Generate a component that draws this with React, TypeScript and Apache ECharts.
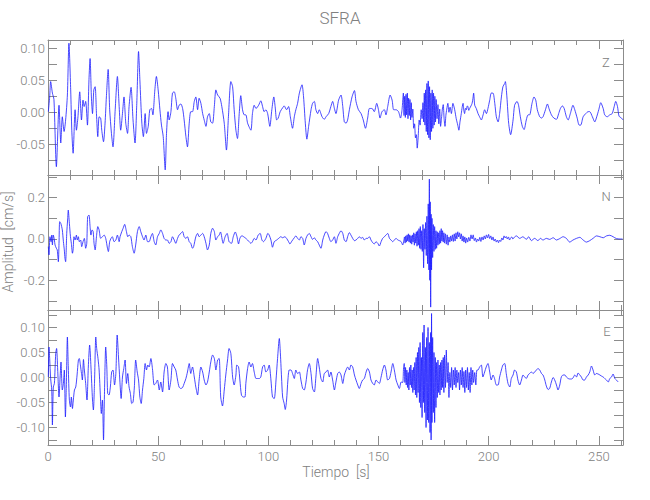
import React, { useEffect, useRef } from 'react';
import * as echarts from 'echarts';

// ---- data (time [s], amplitude [cm/s]) ----
const zTrace: number[][] = [
  [0.15,0.001],[0.76,0.024],[1.2,0.048],[2.0,0.030],[2.7,0.020],[3.8,-0.085],[5.0,0.011],[5.8,-0.048],[6.5,-0.007],[7.3,-0.030],[8.0,-0.012],[8.8,0.027],[9.5,0.108],[10.3,0.035],[10.8,-0.028],[11.4,-0.064],[12.3,0.004],[12.9,-0.028],[13.6,-0.007],[14.4,0.032],[15.2,-0.012],[15.9,0.019],[16.4,0.009],[17.1,0.017],[17.9,-0.020],[18.6,0.051],[19.1,0.084],[19.7,0.024],[20.2,-0.002],[20.8,0.035],[21.4,0.040],[22.0,-0.002],[22.6,-0.038],[23.2,-0.007],[23.9,-0.009],[24.4,-0.028],[25.2,-0.046],[25.9,-0.017],[26.5,0.024],[27.3,0.067],[28.0,0.004],[28.8,-0.033],[29.5,-0.054],[30.5,0.004],[31.5,0.056],[32.3,0.009],[33.0,-0.028],[33.8,-0.002],[34.5,0.024],[35.3,-0.017],[36.1,-0.033],[36.8,0.009],[37.7,0.039],[38.6,-0.012],[39.5,-0.048],[40.3,0.014],[41.1,0.095],[41.7,0.051],[42.6,-0.017],[43.3,-0.038],[44.1,-0.002],[44.7,-0.033],[45.5,-0.022],[46.2,0.004],[47.0,0.006],[47.6,-0.004],[48.5,0.035],[49.2,0.056],[50.0,0.035],[50.8,0.004],[51.5,-0.020],[52.3,-0.038],[53.2,-0.090],[53.8,-0.033],[54.5,0.001],[55.0,-0.012],[55.8,0.001],[56.5,0.030],[57.3,0.032],[58.0,0.022],[58.8,0.004],[59.5,0.011],[60.3,0.013],[61.1,0.006],[61.8,-0.012],[62.6,-0.038],[63.3,-0.054],[64.1,-0.017],[64.8,0.001],[65.6,0.001],[66.4,0.017],[67.1,0.024],[67.9,0.004],[68.6,0.022],[69.4,0.014],[70.2,-0.002],[70.9,-0.012],[71.7,-0.022],[72.4,-0.007],[73.2,-0.002],[73.9,-0.015],[74.7,-0.017],[75.5,0.009],[76.2,0.035],[77.0,0.027],
  [78.1,0.022],[78.9,0.009],[80.0,-0.017],[81.0,-0.059],[81.9,-0.007],[83.0,0.048],[83.8,0.040],[84.5,0.004],[85.3,-0.028],[86.0,-0.041],[86.8,-0.002],[87.5,0.026],[88.3,0.004],[89.1,-0.004],[89.8,-0.004],[90.6,-0.017],[92.1,-0.028],[92.8,-0.002],[93.6,0.011],[94.4,0.006],[95.6,0.011],[96.6,0.018],[97.4,0.009],[98.1,0.001],[98.9,0.004],[99.7,-0.002],[100.7,-0.022],[101.6,0.004],[102.5,0.024],[103.1,0.009],[103.8,-0.012],[104.5,-0.009],[105.4,0.001],[106.5,0.007],[107.2,0.010],[108.3,0.004],[109.2,0.009],[110.0,-0.007],[111.0,-0.025],[111.8,-0.007],[112.5,0.004],[113.3,0.014],[114.1,0.030],[115.3,0.043],[116.0,0.024],[116.8,-0.017],[117.5,-0.042],[118.3,-0.022],[119.4,0.004],[120.1,0.014],[120.9,0.017],[121.6,0.004],[122.4,-0.002],[123.1,0.004],[124.4,-0.007],[125.4,-0.011],[126.2,-0.007],[127.4,-0.002],[128.4,0.009],[129.2,0.017],[130.0,0.006],[130.7,-0.002],[131.9,0.019],[133.0,0.027],[133.8,0.009],[134.5,-0.015],[135.3,-0.017],[136.0,-0.012],[136.8,0.004],[138.0,0.024],[139.1,0.034],[139.8,0.017],[140.9,0.004],[142.1,-0.002],[143.1,-0.012],[144.1,-0.025],[145.1,-0.009],[145.9,0.006],[147.1,0.006],[148.1,0.001],[149.2,0.014],[150.0,0.004],[150.7,-0.009],[151.6,0.001],[152.7,0.004],[153.4,-0.004],[154.2,0.009],[155.3,0.027],[156.2,0.019],[156.9,0.004],[158.0,0.004],[159.1,0.001],[160.0,-0.009],[160.7,0.004],
  [161.3,0.030],[161.6,-0.005],[161.9,0.025],[162.2,-0.008],[162.5,0.028],[162.8,-0.004],[163.1,0.030],[163.4,-0.010],[163.7,0.022],[164.0,-0.005],[164.3,0.020],[164.6,-0.012],[164.9,0.015],[165.2,-0.008],[165.6,0.005],[166.0,-0.025],[166.4,-0.018],[166.8,-0.040],[167.2,-0.035],[167.6,-0.056],[168.0,-0.040],[168.5,-0.012],[168.9,-0.020],[169.4,0.004],[169.8,-0.010],[170.2,0.015],[170.5,-0.015],[170.8,0.030],[171.1,-0.020],[171.4,0.035],[171.7,-0.030],[172.0,0.045],[172.3,-0.035],[172.6,0.049],[172.9,-0.040],[173.2,0.040],[173.5,-0.043],[173.8,0.030],[174.1,-0.030],[174.4,0.035],[174.7,-0.025],[175.0,0.030],[175.3,-0.020],[175.6,0.025],[175.9,-0.015],
  [176.2,0.020],[176.6,-0.010],[177.0,0.012],[177.4,-0.018],[177.8,0.005],[178.2,-0.022],[178.6,-0.010],[179.0,0.005],[179.4,0.012],[179.8,-0.010],[180.2,-0.022],[180.6,-0.005],[181.0,0.005],[181.5,0.014],[182.0,0.000],[182.5,0.008],[183.1,-0.002],[183.8,0.014],[184.6,0.004],[185.3,-0.010],[186.0,-0.020],[186.5,-0.028],[187.0,-0.015],[187.6,-0.002],[188.0,0.008],[188.4,0.014],[188.8,0.002],[189.1,-0.002],[189.5,0.006],[189.9,0.004],[190.3,0.010],[190.6,0.009],[191.0,0.003],[191.4,0.006],[192.0,0.010],[192.5,0.014],[192.9,0.022],[193.2,0.030],[193.7,0.011],[194.4,0.006],[195.2,-0.002],[195.9,-0.007],[196.7,-0.012],[197.5,-0.004],[198.2,0.004],[199.0,-0.002],[199.7,0.006],[200.5,0.019],[201.2,0.030],[202.0,0.030],[202.8,0.014],[203.5,-0.007],[204.3,-0.015],[205.0,-0.002],[205.8,0.024],[206.5,0.040],[207.3,0.045],[207.6,0.048],[208.3,0.024],
  [209.1,-0.017],[210.0,-0.035],[211.1,-0.012],[211.8,0.011],[212.9,0.017],[213.6,0.011],[214.4,-0.007],[215.3,-0.022],[216.1,-0.027],[217.1,-0.012],[217.9,-0.004],[218.6,-0.004],[219.7,0.014],[220.6,0.024],[221.4,0.019],[222.1,0.004],[223.2,-0.007],[224.0,-0.009],[224.7,-0.007],[225.8,0.004],[226.7,0.013],[227.4,0.006],[228.5,-0.004],[229.6,-0.009],[230.8,-0.011],[231.8,-0.002],[232.6,0.006],[233.5,0.010],[234.3,0.006],[235.3,-0.007],[236.1,-0.012],[237.1,-0.002],[238.3,0.011],[239.1,0.004],[240.2,-0.009],[241.1,-0.020],[241.8,-0.020],[242.9,-0.007],[244.1,-0.002],[245.2,0.001],[245.9,0.001],[247.1,-0.007],[248.2,-0.015],[248.9,-0.009],[250.0,0.004],[250.9,0.015],[252.0,0.006],[252.7,-0.004],[253.8,-0.007],[255.0,-0.004],[256.1,-0.002],[257.0,0.009],[257.7,0.017],[258.5,0.009],[259.2,-0.006],[260.3,-0.009],[261.0,-0.012]
];

const nTrace: number[][] = [
  [0.15,-0.037],[0.45,-0.077],[0.9,0.011],[1.4,-0.013],[1.7,0.019],[2.0,-0.029],[2.4,0.019],[2.9,-0.005],[3.2,-0.029],[3.8,-0.045],[4.2,-0.053],[4.7,-0.110],[5.0,-0.021],[5.3,0.084],[5.8,0.076],[6.2,0.060],[6.5,0.044],[7.0,-0.013],[7.4,-0.053],[7.7,-0.094],[8.0,-0.110],[8.5,0.027],[8.9,0.092],[9.2,0.140],[9.7,0.076],[10.2,0.011],[10.6,-0.021],[11.1,-0.069],[11.4,-0.053],[11.8,0.011],[12.3,-0.005],[12.9,0.019],[13.3,-0.005],[13.8,0.011],[14.2,-0.013],[14.8,-0.005],[15.3,-0.037],[15.9,-0.013],[16.5,0.003],[17.1,-0.045],[17.6,-0.021],[18.0,0.108],[18.6,0.116],[19.1,0.060],[19.5,0.019],[20.0,0.044],[20.5,0.036],[20.9,-0.021],[21.4,-0.053],[22.0,0.011],[22.6,0.060],[23.2,0.044],[23.9,0.003],[24.7,0.011],[25.5,0.019],[26.2,0.003],[27.0,-0.045],[27.4,-0.061],[28.0,-0.013],[28.6,0.003],[29.2,0.011],[30.0,-0.013],[30.8,-0.005],[31.5,0.019],[32.3,-0.013],[32.7,0.011],[33.5,0.036],[34.1,0.052],[34.8,0.071],[35.6,0.036],[36.2,0.011],[36.8,0.019],[37.6,0.011],[38.3,-0.037],[39.1,-0.069],[39.8,-0.029],[40.6,0.036],[41.4,0.060],[42.1,0.036],[42.9,0.011],[43.6,-0.005],[44.4,0.019],[45.2,-0.013],[45.9,-0.013],[46.7,0.011],[47.4,0.027],[48.2,-0.013],[48.9,-0.029],[49.7,0.011],[50.5,0.027],[51.2,0.044],[52.0,0.027],[52.7,0.003],[53.5,-0.005],[54.2,-0.005],[55.0,-0.021],[55.8,-0.013],[56.5,0.011],[57.3,-0.005],[58.0,-0.021],[58.8,0.003],[59.5,0.019],[60.3,0.027],[61.1,0.036],[61.8,0.011],[62.6,0.003],[63.3,0.011],[64.1,-0.013],[64.8,-0.021],[65.6,-0.045],[66.1,-0.037],[67.1,0.011],[67.9,0.027],[68.6,0.011],[69.4,0.019],[70.2,0.027],[70.9,0.011],[71.7,-0.021],[72.4,-0.053],[73.2,-0.029],[73.9,0.027],[74.7,0.052],[75.5,0.036],[76.2,-0.005],[77.0,0.011],[77.7,0.019],
  [78.3,0.034],[79.5,-0.021],[80.4,0.011],[81.3,0.027],[82.2,-0.013],[83.3,-0.021],[84.1,0.011],[85.0,0.034],[85.7,0.015],[86.5,-0.024],[87.1,0.003],[88.0,0.016],[88.8,0.011],[89.8,0.003],[90.6,-0.005],[91.3,-0.013],[92.1,-0.021],[92.8,-0.013],[93.6,0.003],[94.4,-0.005],[95.4,0.019],[96.3,0.027],[97.1,-0.005],[97.8,-0.013],[98.9,0.003],[99.8,0.027],[100.4,0.019],[101.2,-0.005],[101.9,-0.040],[102.7,-0.013],[103.8,-0.005],[104.7,0.003],[105.7,0.011],[106.5,0.006],[107.5,0.011],[108.3,0.003],[109.2,-0.013],[109.8,-0.024],[110.7,-0.010],[111.8,0.006],[112.5,0.015],[113.3,0.003],[114.1,-0.005],[114.8,0.011],[115.6,0.003],[116.3,-0.029],[117.1,0.003],[117.8,0.019],[118.6,0.027],[119.4,0.011],[120.1,-0.002],[120.9,0.006],[121.6,-0.005],[122.4,-0.013],[123.1,-0.029],[123.9,-0.045],[124.7,-0.005],[125.4,0.019],[126.2,0.036],[126.9,0.027],[127.7,0.003],[128.4,-0.013],[129.2,-0.005],[130.0,0.011],[130.7,-0.021],[131.5,0.011],[132.2,0.027],[133.0,0.040],[133.8,0.027],[134.5,-0.005],[135.3,-0.013],[136.0,0.011],[136.8,0.031],[137.5,0.019],[138.3,0.003],[139.1,-0.008],[139.8,-0.005],[140.6,0.003],[141.3,0.011],[142.1,0.003],[142.8,0.008],[143.6,-0.005],[144.4,0.003],[145.1,0.003],[145.9,0.011],[146.6,-0.005],[147.4,-0.018],[148.1,-0.024],[148.9,-0.013],[149.7,-0.021],[150.4,-0.034],[151.2,-0.013],[151.9,0.003],[152.7,0.011],[153.4,0.019],[154.2,0.027],[155.0,0.003],[155.7,-0.005],[156.5,-0.013],[157.2,-0.005],[158.0,0.003],[158.8,-0.005],[159.5,-0.008],[160.3,-0.013],[161.0,-0.029],
  [161.5,-0.010],[161.8,0.010],[162.1,-0.020],[162.4,0.015],[162.7,-0.015],[163.0,0.020],[163.3,-0.010],[163.6,0.025],[163.9,-0.015],[164.2,0.020],[164.5,-0.020],[164.8,0.015],[165.1,-0.025],[165.4,0.020],[165.7,-0.015],[166.0,0.030],[166.3,-0.030],[166.6,0.025],[166.9,-0.020],[167.2,0.035],[167.5,-0.035],[167.8,0.040],[168.1,-0.030],[168.4,0.050],[168.7,-0.045],[169.0,0.060],[169.3,-0.050],[169.6,0.040],[169.9,-0.060],[170.2,0.070],[170.5,-0.140],[170.8,0.050],[171.1,-0.050],[171.4,0.080],[171.7,-0.080],[172.0,0.110],[172.3,-0.120],[172.6,0.170],[172.9,-0.150],[173.1,0.290],[173.3,-0.200],[173.5,0.180],[173.7,-0.330],[173.9,0.120],[174.1,-0.150],[174.3,0.100],[174.6,-0.090],[174.9,0.070],[175.2,-0.060],[175.5,0.060],[175.8,-0.050],[176.1,0.040],[176.4,-0.045],[176.7,0.035],[177.0,-0.030],[177.3,0.030],[177.6,-0.025],[177.9,0.040],[178.2,-0.020],[178.5,0.050],[178.8,-0.010],[179.1,0.040],[179.4,-0.015],[179.7,0.030],[180.0,-0.020],[180.4,0.025],[180.8,-0.025],[181.2,0.020],[181.6,-0.030],[182.0,0.010],[182.4,-0.015],[182.8,0.015],[183.2,-0.010],[183.6,0.020],
  [184.0,-0.012],[184.4,0.025],[184.8,-0.010],[185.2,0.030],[185.6,0.000],[186.0,0.035],[186.4,0.010],[186.8,0.030],[187.2,0.000],[187.6,0.025],[188.0,-0.010],[188.4,0.015],[188.8,-0.015],[189.2,0.010],[189.6,-0.020],[190.0,0.005],[190.5,-0.015],[191.0,0.008],[191.5,-0.010],[192.0,0.020],[192.5,0.000],[193.0,0.020],[193.5,-0.008],[194.0,0.005],[194.5,-0.015],[195.0,0.000],[195.5,-0.010],[196.0,0.008],[196.5,-0.012],[197.0,0.010],[197.5,-0.005],[198.0,0.015],[198.5,0.000],[199.0,0.020],[199.5,0.005],[200.0,0.022],[200.5,0.002],[201.0,0.015],[201.5,-0.005],[202.0,0.010],[202.5,-0.010],[203.0,0.000],[203.5,-0.015],[204.0,-0.005],[204.5,-0.018],[205.0,-0.005],[205.5,-0.012],[206.0,0.005],[206.5,-0.005],[207.0,0.015],[207.5,0.005],[208.0,0.012],[208.5,0.000],[209.0,0.010],[209.5,-0.005],[210.0,0.005],[210.5,0.010],[211.0,0.000],[211.8,0.010],
  [212.6,0.015],[214.1,0.003],[215.6,0.011],[217.1,-0.002],[218.2,0.011],[219.4,-0.008],[220.9,0.003],[222.4,-0.008],[223.5,0.003],[224.7,-0.005],[226.2,0.003],[227.7,-0.002],[229.3,0.006],[230.8,-0.005],[232.3,0.002],[233.8,0.011],[235.3,0.003],[236.8,-0.015],[238.3,-0.005],[239.9,0.003],[241.4,0.008],[242.9,-0.005],[244.4,-0.015],[245.9,-0.008],[247.4,0.003],[249.0,0.015],[250.5,0.011],[252.0,0.006],[253.5,0.015],[255.0,0.018],[256.5,0.011],[258.0,0.002],[259.6,0.000],[260.8,0.000]
];

const eTrace: number[][] = [
  [0.15,0.001],[0.45,0.061],[0.76,0.038],[1.2,-0.002],[1.7,-0.025],[2.0,-0.095],[2.4,-0.019],[2.9,-0.012],[3.5,0.048],[3.9,0.058],[4.4,0.015],[5.0,-0.039],[5.5,0.001],[5.9,0.031],[6.5,-0.025],[7.0,-0.012],[7.4,0.015],[7.9,-0.079],[8.3,-0.019],[8.8,0.081],[9.2,0.021],[9.7,-0.045],[10.2,-0.059],[10.6,-0.039],[11.1,-0.062],[11.5,-0.045],[12.0,-0.025],[12.6,-0.019],[13.2,0.005],[13.8,0.035],[14.2,0.038],[14.7,0.025],[15.2,0.008],[15.6,-0.005],[16.1,0.036],[16.5,0.015],[17.1,-0.012],[17.7,-0.045],[18.3,0.021],[18.9,0.065],[19.5,0.021],[20.2,-0.045],[20.6,-0.065],[21.1,-0.012],[21.7,0.081],[22.1,0.058],[22.7,0.038],[23.2,0.015],[23.8,-0.039],[24.2,-0.072],[24.7,-0.045],[25.2,-0.125],[25.6,-0.039],[26.2,0.061],[26.7,0.021],[27.1,-0.032],[27.7,-0.035],[28.3,-0.019],[28.9,0.011],[29.5,0.015],[30.2,-0.015],[30.8,0.008],[31.4,0.085],[32.0,0.041],[32.6,-0.005],[33.2,-0.042],[33.8,0.001],[34.4,0.018],[35.0,0.035],[35.6,-0.012],[36.2,0.008],[36.8,-0.019],[37.4,-0.032],[38.0,-0.052],[38.6,-0.049],[39.2,-0.019],[39.8,0.035],[40.5,0.011],[41.1,-0.005],[41.7,-0.039],[42.3,-0.052],[42.9,-0.025],[43.5,-0.002],[44.1,0.028],[44.7,0.015],[45.3,0.025],[45.9,0.021],[46.7,0.038],[47.4,0.018],[48.2,-0.015],[48.9,-0.012],[49.7,-0.005],[50.5,-0.025],[51.2,-0.009],[52.0,-0.029],[52.7,0.011],[53.5,0.028],[54.2,0.021],[55.0,-0.025],[55.8,-0.005],[56.5,0.028],[57.3,0.021],[58.0,0.015],[58.8,-0.005],[59.5,-0.019],[60.3,-0.022],[61.1,-0.020],[61.8,-0.012],[62.6,-0.002],[63.3,0.011],[64.1,0.028],[64.8,0.008],[65.6,0.021],[66.4,0.001],[67.1,-0.019],[67.9,-0.035],[68.6,-0.005],[69.4,0.021],[70.2,0.011],[70.9,-0.005],[71.7,-0.015],[72.4,-0.009],[73.2,0.011],[73.9,0.031],[74.7,0.045],[75.5,0.038],[76.2,0.015],[77.0,0.035],[77.7,0.038],
  [78.4,-0.039],[79.2,-0.057],[80.0,-0.025],[80.7,0.005],[81.5,0.035],[82.2,0.058],[83.0,0.048],[83.8,0.001],[84.5,-0.015],[85.3,0.005],[85.7,0.025],[86.5,0.021],[87.1,-0.005],[87.8,-0.035],[88.6,-0.039],[89.4,-0.039],[89.8,-0.012],[90.6,0.018],[91.3,0.031],[92.1,0.021],[92.8,0.028],[93.6,0.011],[94.4,-0.002],[95.1,-0.002],[95.9,-0.002],[96.6,0.001],[97.4,0.021],[98.1,0.025],[98.9,0.011],[99.7,0.015],[100.4,0.025],[101.2,-0.005],[101.9,-0.039],[102.7,-0.042],[103.5,-0.005],[104.2,0.038],[105.0,0.078],[105.4,0.055],[106.0,0.001],[106.5,-0.039],[107.2,-0.052],[107.7,-0.064],[108.3,-0.045],[108.9,-0.005],[109.5,0.015],[110.3,0.015],[111.0,0.008],[111.8,-0.002],[112.5,0.015],[113.3,0.008],[114.1,0.011],[114.8,-0.005],[115.6,-0.022],[116.3,-0.025],[117.1,-0.009],[117.8,0.015],[118.6,0.028],[119.4,0.008],[120.1,-0.022],[120.9,-0.029],[121.6,0.001],[122.4,0.038],[123.1,0.021],[123.9,-0.002],[124.7,-0.009],[125.4,0.008],[126.2,0.011],[126.9,0.015],[127.7,0.001],[128.4,0.011],[129.2,-0.005],[130.0,-0.025],[130.7,-0.009],[131.5,0.008],[132.2,0.011],[133.0,0.005],[133.8,-0.012],[134.5,0.005],[135.3,0.015],[136.0,0.021],[136.8,0.015],[137.5,0.025],[138.3,0.021],[139.1,0.005],[139.8,-0.005],[140.6,-0.015],[141.3,-0.022],[142.1,-0.012],[142.8,-0.005],[143.6,-0.002],[144.4,0.011],[145.1,0.018],[145.9,0.011],[146.6,-0.005],[147.4,-0.012],[148.1,-0.015],[148.9,-0.005],[149.7,-0.009],[150.4,-0.012],[151.2,0.001],[151.9,0.015],[152.7,0.025],[153.4,0.015],[154.2,-0.005],[155.0,-0.002],[155.7,0.011],[156.5,0.028],[157.2,0.015],[158.0,-0.005],[158.8,-0.015],[159.5,-0.022],[160.3,-0.009],
  [161.0,-0.010],[161.4,0.020],[161.7,0.028],[162.0,-0.010],[162.3,0.020],[162.6,-0.015],[162.9,0.015],[163.2,-0.020],[163.5,0.010],[163.8,-0.025],[164.1,0.020],[164.4,-0.015],[164.7,0.025],[165.0,-0.020],[165.3,0.015],[165.6,-0.030],[165.9,0.020],[166.2,-0.025],[166.5,0.030],[166.8,-0.035],[167.1,0.040],[167.4,-0.040],[167.7,0.050],[168.0,-0.030],[168.3,0.060],[168.6,-0.050],[168.9,0.070],[169.2,-0.060],[169.5,0.040],[169.8,-0.080],[170.1,0.090],[170.4,-0.050],[170.7,0.105],[171.0,-0.070],[171.3,0.060],[171.6,-0.100],[171.9,0.080],[172.2,-0.085],[172.5,0.100],[172.8,-0.090],[173.1,0.070],[173.4,-0.110],[173.7,0.090],[173.9,-0.125],[174.1,0.128],[174.3,-0.090],[174.6,0.080],[174.9,-0.070],[175.2,0.050],[175.5,-0.090],[175.8,0.040],[176.1,-0.060],[176.4,0.030],[176.7,-0.040],[177.0,0.035],[177.3,-0.030],[177.6,0.025],[177.9,-0.035],[178.2,0.030],[178.5,-0.025],[178.8,0.035],[179.1,-0.020],[179.4,0.040],[179.7,-0.030],[180.0,0.045],[180.4,-0.020],[180.8,0.055],[181.2,-0.010],[181.6,0.030],[182.0,-0.040],[182.4,0.010],[182.8,-0.020],[183.2,0.020],[183.6,-0.025],[184.0,0.015],[184.4,-0.015],[184.8,0.020],[185.2,-0.020],[185.6,0.015],[186.0,-0.010],[186.4,0.010],[186.8,-0.025],[187.2,0.015],[187.6,-0.015],[188.0,0.020],[188.4,-0.020],[188.8,0.012],[189.2,-0.030],[189.6,0.015],[190.0,-0.020],[190.4,0.020],[190.8,-0.025],[191.2,0.010],[191.6,-0.030],[192.0,0.020],[192.4,-0.015],[192.8,0.015],[193.2,-0.010],[193.7,0.010],[194.2,-0.015],[194.7,0.015],
  [195.2,0.015],[195.9,0.021],[196.7,0.025],[197.4,0.001],[198.2,0.011],[198.9,0.021],[199.7,0.028],[200.5,0.011],[201.2,-0.005],[202.0,0.005],[202.7,-0.002],[203.5,-0.015],[204.3,-0.015],[205.0,0.001],[205.8,0.015],[206.5,0.025],[207.3,0.028],[208.0,0.008],[208.8,-0.012],[209.6,-0.019],[210.3,-0.002],[211.1,0.005],[211.8,0.015],[212.6,0.011],[213.3,-0.005],[214.1,-0.015],[214.9,-0.005],[215.6,0.005],[216.4,0.001],[217.1,-0.002],[217.9,0.005],[218.6,0.008],[219.4,0.011],[220.2,0.008],[220.9,0.011],[221.7,0.015],[222.4,0.018],[223.2,0.015],[224.0,0.008],[224.7,0.005],[225.5,-0.005],[226.2,-0.017],[227.0,-0.024],[227.7,-0.022],[228.5,-0.009],[229.3,0.000],[230.0,-0.005],[230.8,-0.015],[231.5,-0.025],[232.3,-0.015],[233.0,0.001],[233.8,0.005],[234.6,0.005],[235.3,0.001],[236.1,-0.002],[236.8,-0.003],[237.6,-0.003],[238.3,-0.001],[239.1,0.005],[239.9,0.001],[240.6,0.009],[241.4,0.005],[242.1,0.001],[242.9,-0.005],[243.6,-0.005],[244.4,0.001],[245.2,0.005],[245.9,0.011],[246.7,0.023],[247.4,0.015],[248.2,0.005],[248.9,0.008],[249.7,0.007],[250.5,0.005],[251.2,0.003],[252.0,0.001],[252.7,-0.002],[253.5,-0.005],[254.3,-0.009],[255.0,-0.002],[255.8,0.001],[256.5,0.007],[257.3,-0.002],[258.0,-0.005],[258.8,-0.009]
];

const panelTraces = [zTrace, nTrace, eTrace];
const panelNames = ['Z', 'N', 'E'];
const yMins = [-0.098, -0.344, -0.135];
const yMaxs = [0.113, 0.31, 0.135];
const yTickValues = [
  [-0.075, -0.05, -0.025, 0, 0.025, 0.05, 0.075, 0.1],
  [-0.3, -0.2, -0.1, 0, 0.1, 0.2, 0.3],
  [-0.125, -0.1, -0.075, -0.05, -0.025, 0, 0.025, 0.05, 0.075, 0.1, 0.125],
];
const yLabelValues = [
  [-0.05, 0, 0.05, 0.1],
  [-0.2, 0, 0.2],
  [-0.1, -0.05, 0, 0.05, 0.1],
];
const yDecimals = [2, 1, 2];
const xMajorTicks = [0, 50, 100, 150, 200, 250];
const xMinorTicks = [10, 20, 30, 40, 60, 70, 80, 90, 110, 120, 130, 140, 160, 170, 180, 190, 210, 220, 230, 240, 260];
const xMin = 0;
const xMax = 261;

const title = 'SFRA';
const xTitle = 'Tiempo  [s]';
const yTitle = 'Amplitud  [cm/s]';

// ---- layout / style ----
const AXIS = '#8c8c8c';
const TEXT = '#808080';
const FONT = 'Roboto, "DejaVu Sans", sans-serif';
const GRID_LEFT = 48;
const GRID_WIDTH = 575;
const GRID_TOPS = [40, 175, 310];
const GRID_H = 135;
const LABEL_POS = [[606, 62], [606, 196], [607, 331]];

export default function App() {
  const ref = useRef<HTMLDivElement>(null);
  useEffect(() => {
    document.body.style.margin = '0';
    if (!ref.current) return;
    const chart = echarts.init(ref.current, undefined, { renderer: 'svg' });

    const grids = GRID_TOPS.map((t) => ({ left: GRID_LEFT, top: t, width: GRID_WIDTH, height: GRID_H, containLabel: false }));
    const xAxes: any[] = [];
    const yAxes: any[] = [];
    const series: any[] = [];

    panelTraces.forEach((trace, i) => {
      const mk = (position: string, ticks: number[], len: number, showLine: boolean, showLabel: boolean) => ({
        type: 'value', gridIndex: i, position, min: xMin, max: xMax,
        axisLine: { show: showLine, onZero: false, lineStyle: { color: AXIS, width: 1 } },
        axisTick: { show: true, inside: true, length: len, customValues: ticks, lineStyle: { color: AXIS, width: 1 } },
        axisLabel: { show: showLabel, customValues: xMajorTicks, color: TEXT, fontFamily: FONT, fontWeight: 300, fontSize: 13, margin: 5, formatter: (v: number) => String(v) },
        splitLine: { show: false },
      });
      xAxes.push(mk('bottom', xMajorTicks, 9, true, i === 2));
      xAxes.push(mk('bottom', xMinorTicks, 5, false, false));
      xAxes.push(mk('top', xMajorTicks, 9, true, false));
      xAxes.push(mk('top', xMinorTicks, 5, false, false));

      const mky = (position: string, showLabel: boolean) => ({
        type: 'value', gridIndex: i, position, min: yMins[i], max: yMaxs[i],
        axisLine: { show: true, onZero: false, lineStyle: { color: AXIS, width: 1 } },
        axisTick: { show: true, inside: true, length: 9, customValues: yTickValues[i], lineStyle: { color: AXIS, width: 1 } },
        axisLabel: { show: showLabel, customValues: yLabelValues[i], color: TEXT, fontFamily: FONT, fontWeight: 300, fontSize: 13, margin: 3, formatter: (v: number) => v.toFixed(yDecimals[i]) },
        splitLine: { show: false },
      });
      yAxes.push(mky('left', true));
      yAxes.push(mky('right', false));

      series.push({
        type: 'line', xAxisIndex: 4 * i, yAxisIndex: 2 * i, data: trace,
        showSymbol: false, symbol: 'none', smooth: 0.25, silent: true,
        lineStyle: { color: '#1a1aff', width: 0.8 },
      });
    });

    const graphic: any[] = [
      { type: 'text', x: 340, y: 18, style: { text: title, fill: TEXT, font: `300 17px ${FONT}`, align: 'center', verticalAlign: 'middle' } },
      { type: 'text', x: 336, y: 472, style: { text: xTitle, fill: TEXT, font: `300 14px ${FONT}`, align: 'center', verticalAlign: 'middle' } },
      { type: 'text', x: 8, y: 242, rotation: Math.PI / 2, style: { text: yTitle, fill: TEXT, font: `300 14px ${FONT}`, align: 'center', verticalAlign: 'middle' } },
      ...panelNames.map((n, i) => ({ type: 'text', x: LABEL_POS[i][0], y: LABEL_POS[i][1], style: { text: n, fill: TEXT, font: `300 13px ${FONT}`, align: 'center', verticalAlign: 'middle' } })),
    ];

    chart.setOption({
      animation: false,
      backgroundColor: '#ffffff',
      grid: grids,
      xAxis: xAxes,
      yAxis: yAxes,
      series,
      graphic,
    });
    return () => chart.dispose();
  }, []);
  return <div ref={ref} style={{ width: 650, height: 500 }} />;
}
